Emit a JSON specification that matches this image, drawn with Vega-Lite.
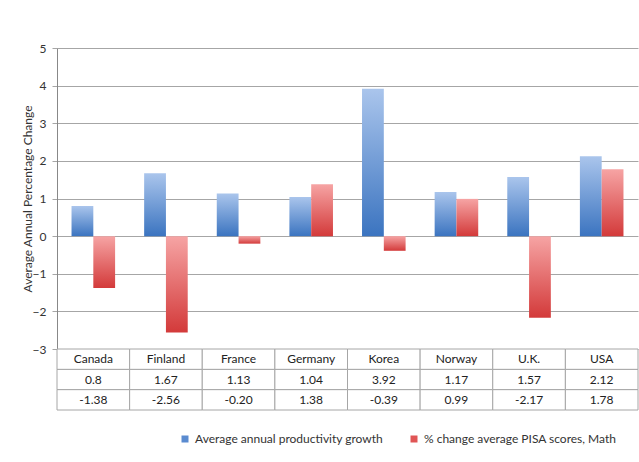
{
  "$schema": "https://vega.github.io/schema/vega-lite/v6.json",
  "padding": {"left": 21, "top": 42, "right": 0, "bottom": 0},
  "background": "white",
  "spacing": 0,
  "bounds": "flush",
  "config": {
    "font": "Lato",
    "view": {"stroke": null},
    "axis": {"labelFont": "Lato", "titleFont": "Lato", "labelColor": "#333", "titleColor": "#333"}
  },
  "data": {
    "values": [
      {"country": "Canada", "series": "Average annual productivity growth", "value": 0.8, "label": "0.8"},
      {"country": "Finland", "series": "Average annual productivity growth", "value": 1.67, "label": "1.67"},
      {"country": "France", "series": "Average annual productivity growth", "value": 1.13, "label": "1.13"},
      {"country": "Germany", "series": "Average annual productivity growth", "value": 1.04, "label": "1.04"},
      {"country": "Korea", "series": "Average annual productivity growth", "value": 3.92, "label": "3.92"},
      {"country": "Norway", "series": "Average annual productivity growth", "value": 1.17, "label": "1.17"},
      {"country": "U.K.", "series": "Average annual productivity growth", "value": 1.57, "label": "1.57"},
      {"country": "USA", "series": "Average annual productivity growth", "value": 2.12, "label": "2.12"},
      {"country": "Canada", "series": "% change average PISA scores, Math", "value": -1.38, "label": "-1.38"},
      {"country": "Finland", "series": "% change average PISA scores, Math", "value": -2.56, "label": "-2.56"},
      {"country": "France", "series": "% change average PISA scores, Math", "value": -0.2, "label": "-0.20"},
      {"country": "Germany", "series": "% change average PISA scores, Math", "value": 1.38, "label": "1.38"},
      {"country": "Korea", "series": "% change average PISA scores, Math", "value": -0.39, "label": "-0.39"},
      {"country": "Norway", "series": "% change average PISA scores, Math", "value": 0.99, "label": "0.99"},
      {"country": "U.K.", "series": "% change average PISA scores, Math", "value": -2.17, "label": "-2.17"},
      {"country": "USA", "series": "% change average PISA scores, Math", "value": 1.78, "label": "1.78"}
    ]
  },
  "vconcat": [
    {
      "width": 581,
      "height": 301,
      "encoding": {
        "x": {"field": "country", "type": "nominal", "sort": null,
              "scale": {"paddingInner": 0.4, "paddingOuter": 0.2}, "axis": null},
        "xOffset": {"field": "series", "sort": null,
                    "scale": {"domain": ["Average annual productivity growth", "% change average PISA scores, Math"], "paddingInner": 0, "paddingOuter": 0}},
        "y": {"field": "value", "type": "quantitative",
              "scale": {"domain": [-3, 5], "nice": false},
              "axis": {"values": [-3, -2, -1, 0, 1, 2, 3, 4, 5], "title": "Average Annual Percentage Change",
                       "titleFontWeight": "normal", "titleFontSize": 12, "labelFontSize": 12,
                       "gridColor": "#a6a6a6", "domainColor": "#888", "tickColor": "#a6a6a6",
                       "labelPadding": 6, "titlePadding": -2}}
      },
      "layer": [
        {
          "transform": [{"filter": "datum.series === 'Average annual productivity growth'"}],
          "mark": {"type": "bar", "fill": {"gradient": "linear", "x1": 0, "y1": 0, "x2": 0, "y2": 1,
                   "stops": [{"offset": 0, "color": "#aac5ec"}, {"offset": 1, "color": "#3b74c0"}]}}
        },
        {
          "transform": [{"filter": "datum.series === '% change average PISA scores, Math'"}],
          "mark": {"type": "bar", "fill": {"gradient": "linear", "x1": 0, "y1": 0, "x2": 0, "y2": 1,
                   "stops": [{"offset": 0, "color": "#f6a4a4"}, {"offset": 1, "color": "#d33a3a"}]}}
        },
        {
          "mark": {"type": "bar"},
          "encoding": {
            "y": {"datum": 0},
            "y2": {"datum": 0},
            "color": {"field": "series", "type": "nominal", "sort": null,
                      "scale": {"domain": ["Average annual productivity growth", "% change average PISA scores, Math"],
                                "range": ["#5a8bd0", "#e05555"]},
                      "legend": {"title": null, "orient": "none", "direction": "horizontal", "legendX": 122, "legendY": 385,
                                 "symbolType": "square", "symbolSize": 49, "labelFontSize": 12, "labelColor": "#333",
                                 "labelLimit": 400, "columnPadding": 24, "symbolStrokeWidth": 0}}
          }
        }
      ]
    },
    {
      "width": 581,
      "height": 61,
      "encoding": {
        "x": {"field": "country", "type": "nominal", "sort": null,
              "scale": {"paddingInner": 0, "paddingOuter": 0}, "axis": null}
      },
      "layer": [
        {
          "mark": {"type": "rect", "fill": "white", "stroke": "#a6a6a6", "strokeWidth": 1},
          "encoding": {
            "y": {"field": "series", "type": "nominal",
                  "scale": {"domain": ["name", "Average annual productivity growth", "% change average PISA scores, Math"], "paddingInner": 0, "paddingOuter": 0},
                  "axis": null}
          }
        },
        {
          "transform": [{"filter": "datum.series === 'Average annual productivity growth'"}],
          "mark": {"type": "rect", "fill": "white", "stroke": "#a6a6a6", "strokeWidth": 1},
          "encoding": {"y": {"datum": "name", "type": "nominal"}}
        },
        {
          "transform": [{"filter": "datum.series === 'Average annual productivity growth'"}],
          "mark": {"type": "text", "fontSize": 12, "color": "#222"},
          "encoding": {"y": {"datum": "name", "type": "nominal", "bandPosition": 0.5}, "text": {"field": "country"}}
        },
        {
          "mark": {"type": "text", "fontSize": 12, "color": "#222"},
          "encoding": {"y": {"field": "series", "type": "nominal", "bandPosition": 0.5}, "text": {"field": "label"}}
        }
      ]
    }
  ]
}
